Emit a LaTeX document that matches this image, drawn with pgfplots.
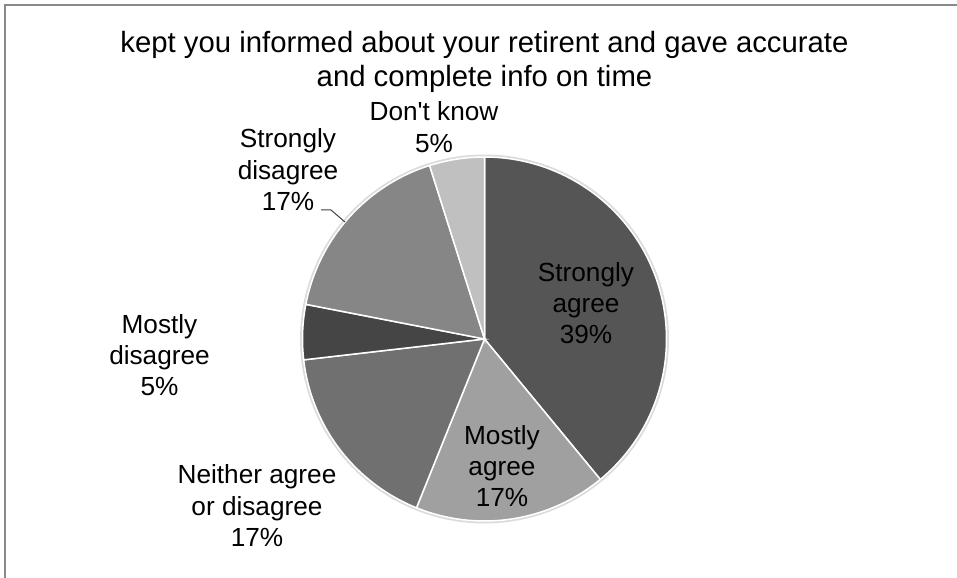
\documentclass[border=0pt]{standalone}
\usepackage{fontspec}
\setmainfont{Liberation Sans}
\newfontfamily\nomap{Liberation Sans}
\usepackage{pgfplots}
\pgfplotsset{compat=1.18}
\definecolor{sa}{HTML}{555555}
\definecolor{ma}{HTML}{A0A0A0}
\definecolor{ne}{HTML}{707070}
\definecolor{md}{HTML}{454545}
\definecolor{sd}{HTML}{868686}
\definecolor{dk}{HTML}{C0C0C0}
\definecolor{frame}{HTML}{898989}
\tikzset{
  lbl/.style={anchor=base,font=\fontsize{26.2bp}{31.4bp}\selectfont,inner sep=0pt},
  ttl/.style={anchor=base,font=\fontsize{29.3bp}{35bp}\selectfont,inner sep=0pt}}
\begin{document}
\begin{tikzpicture}
\begin{axis}[x=1bp,y=1bp,xmin=0,xmax=957,ymin=0,ymax=578,
  enlargelimits=false,hide axis,clip=false]
\path[use as bounding box] (axis cs:0,0) rectangle (axis cs:957,578);
% frame (left and top edges visible)
\draw[frame,line width=1.5bp] (axis cs:5,0) -- (axis cs:5,573) -- (axis cs:957,573);
% title
\node[ttl] at (axis cs:484.5,525) {kept you informed about your retirent and gave accurate};
\node[ttl] at (axis cs:484.5,491) {and complete info on time};
% soft outline of the pie
\addplot[draw=black!14,line width=3bp,domain=0:360,samples=160] ({484.5+183*cos(x)},{239+183*sin(x)});
% slices: counts 16,7,7,2,7,2 (of 41)
\def\cum{0}
\pgfplotsforeachungrouped \v/\c in {16/sa,7/ma,7/ne,2/md,7/sd,2/dk} {
  \pgfmathsetmacro\a{90-360*\cum/41}
  \pgfmathsetmacro\b{90-360*(\cum+\v)/41}
  \edef\temp{\noexpand\addplot[fill=\c,draw=white,line width=1.5bp,domain=\a:\b,samples=100]
    ({484.5+182*cos(x)},{239+182*sin(x)}) -- (axis cs:484.5,239) -- cycle;}
  \temp
  \pgfmathsetmacro\cum{\cum+\v}
}
% labels
\node[lbl] at (axis cs:586,296) {Strongly};
\node[lbl] at (axis cs:586,265) {agree};
\node[lbl] at (axis cs:586,234) {39\%};
\node[lbl] at (axis cs:502,133.5) {Mostly};
\node[lbl] at (axis cs:502,102) {agree};
\node[lbl] at (axis cs:502,71) {17\%};
\node[lbl] at (axis cs:257,94) {Neither agree};
\node[lbl] at (axis cs:257,62.5) {or disagree};
\node[lbl] at (axis cs:257,31) {17\%};
\node[lbl] at (axis cs:159.5,244) {Mostly};
\node[lbl] at (axis cs:159.5,213) {disagree};
\node[lbl] at (axis cs:159.5,182) {5\%};
\node[lbl] at (axis cs:288,430) {Strongly};
\node[lbl] at (axis cs:288,398.5) {disagree};
\node[lbl] at (axis cs:288,367) {17\%};
\node[lbl] at (axis cs:434,457) {\nomap Don't know};
\node[lbl] at (axis cs:434,425.5) {5\%};
% leader line
\draw[black!75,line width=1bp] (axis cs:321,368) -- (axis cs:331,368) -- (axis cs:345,356);
\end{axis}
\end{tikzpicture}
\end{document}
